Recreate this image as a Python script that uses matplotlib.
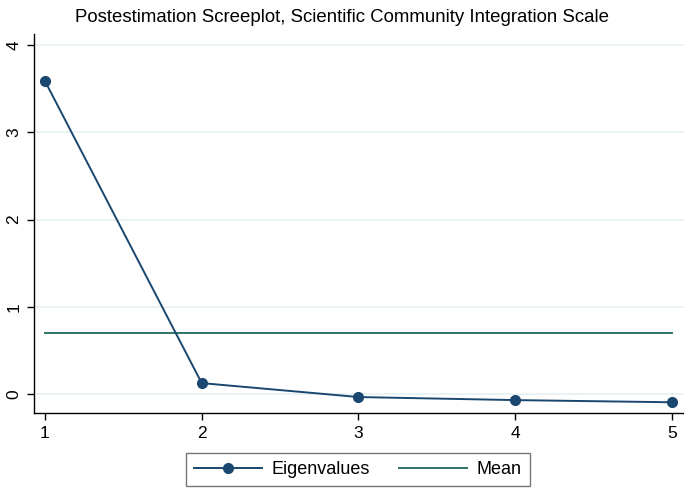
import matplotlib
matplotlib.use("Agg")
import matplotlib.pyplot as plt
from matplotlib.lines import Line2D

plt.rcParams['font.family'] = ['Liberation Sans', 'DejaVu Sans']

components = [1, 2, 3, 4, 5]
eigenvalues = [3.59, 0.125, -0.035, -0.07, -0.095]
mean_value = 0.70
yticks = [0, 1, 2, 3, 4]
title = "Postestimation Screeplot, Scientific Community Integration Scale"

fig = plt.figure(figsize=(6.84, 4.88), dpi=100)
ax = fig.add_axes([34/684, 1-413/488, 1-34/684, (413-34)/488])

navy = "#1a476f"
teal = "#2e7468"

for y in yticks:
    ax.axhline(y, color="#e8f0f2", lw=1.2, zorder=0)

ax.plot(components, eigenvalues, color=navy, lw=1.4, marker='o', ms=7, zorder=3)
ax.plot([components[0], components[-1]], [mean_value, mean_value], color=teal, lw=1.4, zorder=2)

ax.set_xlim(0.93, 5.077)
ax.set_ylim(-0.218, 4.13)
ax.set_xticks(components)
ax.set_yticks(yticks)
ax.tick_params(axis='both', direction='out', length=5, width=1, color='black', labelsize=12.5)
ax.tick_params(axis='y', labelrotation=90, pad=4)
for lab in ax.get_yticklabels():
    lab.set_va('center')
ax.tick_params(axis='x', pad=4)

for s in ['top', 'right']:
    ax.spines[s].set_visible(False)
for s in ['left', 'bottom']:
    ax.spines[s].set_color('black')
    ax.spines[s].set_linewidth(1)

fig.text(0.5, 1-18/488, title, ha='center', va='center', fontsize=13.4)

handles = [Line2D([0], [0], color=navy, lw=1.4, marker='o', ms=7),
           Line2D([0], [0], color=teal, lw=1.4)]
leg = fig.legend(handles, ["Eigenvalues", "Mean"], loc='lower center',
                 bbox_to_anchor=(358/684, 2/488), borderaxespad=0, ncol=2, frameon=True,
                 fancybox=False, fontsize=13, handlelength=3.76, columnspacing=1.6,
                 handletextpad=0.55, borderpad=0.45, edgecolor='#555555')
leg.get_frame().set_linewidth(1)

fig.savefig("out.png", dpi=100, facecolor='white')
